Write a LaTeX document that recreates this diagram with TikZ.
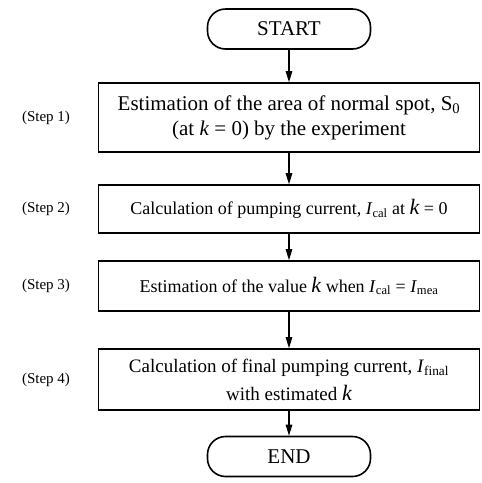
\documentclass[tikz,border=0pt]{standalone}
\usepackage{fontspec}
\setmainfont{Liberation Serif}
\usetikzlibrary{arrows.meta}
\usetikzlibrary{calc}

\newcommand{\bigk}{{\fontsize{22}{26}\selectfont\itshape k}}
\newcommand{\curr}[1]{\textit{I}\textsubscript{#1}}

\begin{document}
\begin{tikzpicture}[x=1pt,y=-1pt,
  every node/.style={font=\fontsize{18}{27}\selectfont},
  term/.style={draw,line width=1.6pt,rounded corners=18pt,minimum width=163pt,minimum height=40pt,font=\fontsize{21}{25}\selectfont},
  stepbox/.style={draw,line width=1.6pt,minimum width=381pt,align=center},
  steplabel/.style={font=\fontsize{15}{18}\selectfont},
  flow/.style={line width=1.2pt,-{Triangle[length=11pt,width=6.5pt]}}]
\useasboundingbox (0,0) rectangle (482,483);
\node[term] (start) at (289,29) {START};
\node[stepbox,minimum height=69pt,font=\fontsize{21}{25}\selectfont] (s1) at (289,117.5) {Estimation of the area of normal spot, S\textsubscript{0}\\(at \textit{k} = 0) by the experiment};
\node[stepbox,minimum height=48pt] (s2) at (289,209) {Calculation of pumping current, \curr{cal} at \bigk{} = 0};
\node[stepbox,minimum height=50pt] (s3) at (289,286) {Estimation of the value \bigk{} when \curr{cal} = \curr{mea}};
\node[stepbox,minimum height=61pt,font=\fontsize{19}{28}\selectfont] (s4) at (289,379.5) {Calculation of final pumping current, \curr{final}\\with estimated \bigk};
\node[term] (end) at (289,456.5) {END};
% step labels
\node[steplabel] (l1) at (46,117.5) {(Step 1)};
\node[steplabel] (l2) at (46,209) {(Step 2)};
\node[steplabel] (l3) at (46,286) {(Step 3)};
\node[steplabel] (l4) at (46,379.5) {(Step 4)};
\draw[flow] (start) -- (s1);
\draw[flow] (s1) -- (s2);
\draw[flow] (s2) -- (s3);
\draw[flow] (s3) -- (s4);
\draw[flow] (s4) -- (end);
\end{tikzpicture}
\end{document}
